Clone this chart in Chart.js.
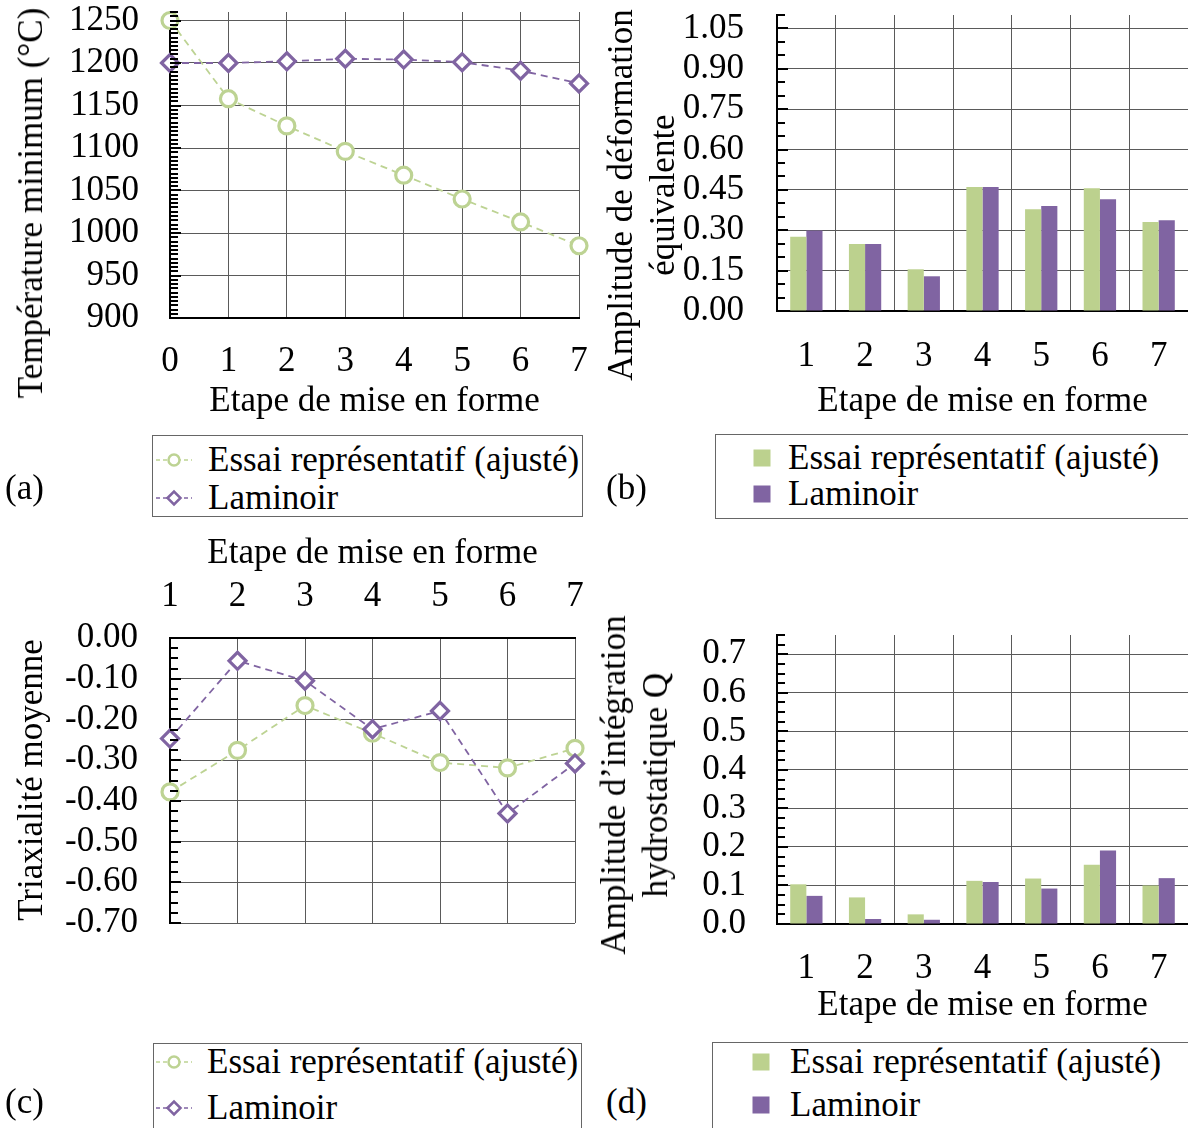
<!DOCTYPE html>
<html>
<head>
<meta charset="utf-8">
<script src="https://cdn.jsdelivr.net/npm/chart.js@4.4.0/dist/chart.umd.min.js"></script>
<style>
body { margin:0; width:1188px; height:1128px; overflow:hidden; background:#fff; position:relative;
       font-family:'Liberation Serif','Times New Roman',serif; font-size:35px; color:#000; }
canvas, .ytitle, .box, .panel { position:absolute; }
.ytitle { white-space:nowrap; line-height:42px; text-align:center; transform:translate(-50%,-50%) rotate(-90deg); }
.box { border:1px solid #666; box-sizing:border-box; }
.row { position:absolute; left:0; height:42px; line-height:42px; white-space:nowrap; }
.row svg { position:absolute; top:11px; }
.row span { position:absolute; top:0; }
.panel { line-height:42px; }
</style>
</head>
<body>
<canvas id="chartA" width="600" height="425" style="left:0;top:0"></canvas>
<canvas id="chartB" width="588" height="425" style="left:600px;top:0"></canvas>
<canvas id="chartC" width="600" height="420" style="left:0;top:520px"></canvas>
<canvas id="chartD" width="588" height="430" style="left:600px;top:600px"></canvas>

<div class="ytitle" style="left:31px;top:203px">Température minimum (°C)</div>
<div class="ytitle" style="left:642px;top:195px">Amplitude de déformation<br>équivalente</div>
<div class="ytitle" style="left:31px;top:780px">Triaxialité moyenne</div>
<div class="ytitle" style="left:635px;top:785px">Amplitude d’intégration<br>hydrostatique Q</div>

<div class="panel" style="left:5px;top:467px">(a)</div>
<div class="panel" style="left:606px;top:467px">(b)</div>
<div class="panel" style="left:5px;top:1081px">(c)</div>
<div class="panel" style="left:606px;top:1081px">(d)</div>

<div class="box" id="legA" style="left:152px;top:435px;width:431px;height:82px"></div>
<div class="box" id="legB" style="left:715px;top:434px;width:480px;height:85px"></div>
<div class="box" id="legC" style="left:153px;top:1043px;width:429px;height:100px"></div>
<div class="box" id="legD" style="left:712px;top:1042px;width:480px;height:100px"></div>

<script>
// etapes de mise en forme
var STEPS_A = ['0', '1', '2', '3', '4', '5', '6', '7'];
var STEPS = ['1', '2', '3', '4', '5', '6', '7'];
var SERIES = ['Essai représentatif (ajusté)', 'Laminoir'];
var X_TITLE = 'Etape de mise en forme';

// (a) temperature minimum
var tempEssai = [1250, 1158, 1126, 1096, 1068, 1040, 1013, 985];
var tempLaminoir = [1200, 1200, 1202, 1205, 1204, 1201, 1191, 1176];
// (b) amplitude de deformation equivalente
var strainEssai = [0.276, 0.249, 0.155, 0.461, 0.378, 0.456, 0.331];
var strainLaminoir = [0.299, 0.249, 0.129, 0.461, 0.390, 0.415, 0.337];
// (c) triaxialite moyenne
var triaxEssai = [-0.378, -0.276, -0.166, -0.234, -0.306, -0.319, -0.271];
var triaxLaminoir = [-0.247, -0.056, -0.105, -0.224, -0.179, -0.431, -0.308];
// (d) amplitude d'integration hydrostatique Q
var qEssai = [0.103, 0.069, 0.025, 0.112, 0.118, 0.154, 0.100];
var qLaminoir = [0.073, 0.013, 0.011, 0.109, 0.092, 0.191, 0.119];

var GREEN_LINE = '#bdd393';
var GREEN_BAR = '#bcd18e';
var PURPLE = '#8064a2';
var GRID = '#5a5a5a';

Chart.defaults.font.family = "'Liberation Serif', 'Times New Roman', serif";
Chart.defaults.font.size = 35;
Chart.defaults.color = '#000';

// small ticks drawn inside the plot along the y axis
var minorTicks = {
    id: 'minorTicks',
    afterDraw: function (chart, args, opts) {
        var y = chart.scales.y;
        var ctx = chart.ctx;
        var left = chart.chartArea.left;
        var n = Math.round((y.max - y.min) / opts.step);
        ctx.save();
        ctx.strokeStyle = '#000';
        ctx.lineWidth = 2;
        for (var i = 0; i <= n; i++) {
            var v = y.min + i * opts.step;
            var r = v / opts.major;
            var len = Math.abs(r - Math.round(r)) < 1e-6 ? 11 : 8;
            var py = Math.round(y.getPixelForValue(v));
            ctx.beginPath();
            ctx.moveTo(left, py);
            ctx.lineTo(left + len, py);
            ctx.stroke();
        }
        ctx.restore();
    }
};

function fmt(digits) {
    return function (v) {
        if (Math.abs(v) < 1e-9) v = 0;
        return v.toFixed(digits);
    };
}

function yScale(min, max, step, digits, width, pad) {
    return {
        min: min,
        max: max,
        ticks: { stepSize: step, includeBounds: false, autoSkip: false, padding: pad, callback: fmt(digits) },
        grid: { color: GRID, drawTicks: false },
        border: { color: '#000', width: 2 },
        afterFit: function (s) { s.width = width; s.paddingTop = 0; s.paddingBottom = 0; }
    };
}

function xScale(position, height, pad, titlePad) {
    return {
        position: position,
        ticks: { padding: pad, maxRotation: 0, autoSkip: false },
        grid: { color: GRID, drawTicks: false },
        border: { color: '#000', width: 2 },
        title: { display: true, text: X_TITLE, padding: titlePad },
        afterFit: function (s) { s.height = height; s.paddingLeft = 0; s.paddingRight = 0; }
    };
}

function lineSets(essai, lam) {
    return [{
        label: SERIES[0], data: essai, order: 2,
        borderColor: GREEN_LINE, borderWidth: 1.8, borderDash: [7, 5],
        pointStyle: 'circle', pointRadius: 8, pointBorderWidth: 3.2,
        pointBorderColor: GREEN_LINE, pointBackgroundColor: '#fff', clip: false
    }, {
        label: SERIES[1], data: lam, order: 1,
        borderColor: PURPLE, borderWidth: 1.8, borderDash: [7, 5],
        pointStyle: 'rectRot', pointRadius: 8.5, pointBorderWidth: 3.2,
        pointBorderColor: PURPLE, pointBackgroundColor: '#fff', clip: false
    }];
}

function barSets(essai, lam) {
    return [{
        label: SERIES[0], data: essai, backgroundColor: GREEN_BAR,
        categoryPercentage: 0.55, barPercentage: 1.0, borderWidth: 0
    }, {
        label: SERIES[1], data: lam, backgroundColor: PURPLE,
        categoryPercentage: 0.55, barPercentage: 1.0, borderWidth: 0
    }];
}

function baseOptions(padding, minor) {
    return {
        responsive: false,
        animation: false,
        devicePixelRatio: 1,
        events: [],
        layout: { padding: padding },
        plugins: { legend: { display: false }, tooltip: { enabled: false }, minorTicks: minor }
    };
}

// (a)
var optA = baseOptions({ top: 12, right: 21, bottom: 0, left: 0 }, { step: 5, major: 50 });
optA.scales = {
    x: xScale('bottom', 107, 23, { top: 0, bottom: 2 }),
    y: yScale(900, 1260, 50, 0, 170, 31)
};
new Chart(document.getElementById('chartA'), {
    type: 'line',
    data: { labels: STEPS_A, datasets: lineSets(tempEssai, tempLaminoir) },
    options: optA,
    plugins: [minorTicks]
});

// (b)
var optB = baseOptions({ top: 15, right: 0, bottom: 0, left: 0 }, { step: 0.05, major: 0.15 });
optB.scales = {
    x: xScale('bottom', 114, 25, { top: 0, bottom: 2 }),
    y: yScale(0, 1.1, 0.15, 2, 177, 33)
};
new Chart(document.getElementById('chartB'), {
    type: 'bar',
    data: { labels: STEPS, datasets: barSets(strainEssai, strainLaminoir) },
    options: optB,
    plugins: [minorTicks]
});

// (c)
var optC = baseOptions({ top: 0, right: 25, bottom: 17, left: 0 }, { step: 0.025, major: 0.1 });
optC.scales = {
    x: xScale('top', 118, 20, { top: 13, bottom: 0 }),
    y: yScale(-0.7, 0, 0.1, 2, 170, 32)
};
new Chart(document.getElementById('chartC'), {
    type: 'line',
    data: { labels: STEPS, datasets: lineSets(triaxEssai, triaxLaminoir) },
    options: optC,
    plugins: [minorTicks]
});

// (d)
var optD = baseOptions({ top: 35, right: 0, bottom: 0, left: 0 }, { step: 0.025, major: 0.1 });
optD.scales = {
    x: xScale('bottom', 106, 24, { top: 0, bottom: 3 }),
    y: yScale(0, 0.75, 0.1, 1, 177, 31)
};
new Chart(document.getElementById('chartD'), {
    type: 'bar',
    data: { labels: STEPS, datasets: barSets(qEssai, qLaminoir) },
    options: optD,
    plugins: [minorTicks]
});

// legends
function markerSvg(kind, i) {
    var col = i === 0 ? GREEN_LINE : PURPLE;
    if (kind === 'bar') {
        var fill = i === 0 ? GREEN_BAR : PURPLE;
        return '<svg width="18" height="20"><rect x="0.5" y="1.5" width="17" height="17" fill="' + fill + '"/></svg>';
    }
    var shape = i === 0
        ? '<circle cx="18" cy="10" r="5.5" fill="#fff" stroke="' + col + '" stroke-width="2.5"/>'
        : '<polygon points="11.5,10 18,3.5 24.5,10 18,16.5" fill="#fff" stroke="' + col + '" stroke-width="2.5"/>';
    return '<svg width="36" height="20"><line x1="0" y1="10" x2="36" y2="10" stroke="' + col +
        '" stroke-width="1.6" stroke-dasharray="4,3"/>' + shape + '</svg>';
}

function buildLegend(id, kind, tops, markerX, textX) {
    var box = document.getElementById(id);
    var html = '';
    for (var i = 0; i < SERIES.length; i++) {
        html += '<div class="row" style="top:' + tops[i] + 'px">' +
            '<div style="position:absolute;left:' + markerX + 'px;top:0;height:42px">' + markerSvg(kind, i) + '</div>' +
            '<span style="left:' + textX + 'px">' + SERIES[i] + '</span></div>';
    }
    box.innerHTML = html;
}

buildLegend('legA', 'line', [3, 41], 3, 55);
buildLegend('legB', 'bar', [2, 38], 37, 72);
buildLegend('legC', 'line', [-3, 43], 2, 53);
buildLegend('legD', 'bar', [-2, 41], 39, 77);
</script>
</body>
</html>
